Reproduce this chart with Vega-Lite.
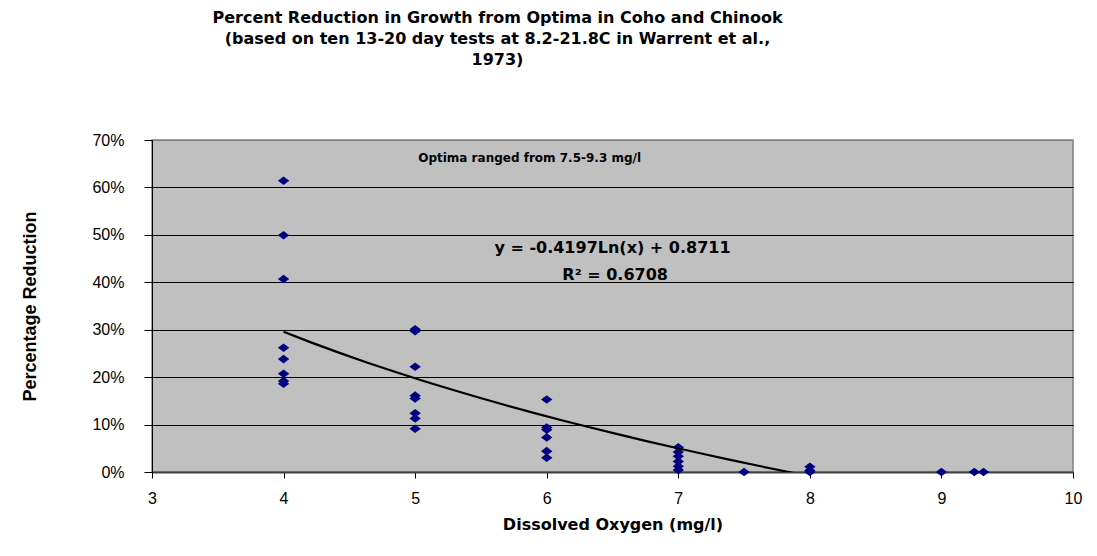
{
  "$schema": "https://vega.github.io/schema/vega-lite/v6.json",
  "width": 921,
  "height": 332,
  "autosize": {"type": "none"},
  "padding": {"left": 152, "top": 140, "right": 24, "bottom": 84},
  "background": "white",
  "title": {
    "text": ["Percent Reduction in Growth from Optima in Coho and Chinook", "(based on ten 13-20 day tests at 8.2-21.8C in Warrent et al.,", "1973)"],
    "anchor": "middle",
    "frame": "group",
    "dx": -115,
    "offset": 64,
    "font": "DejaVu Sans",
    "fontSize": 16,
    "fontWeight": "bold",
    "lineHeight": 21,
    "color": "#000000"
  },
  "config": {
    "view": {"fill": "#C0C0C0", "stroke": "#808080", "strokeWidth": 1.5},
    "axis": {"labelFont": "Liberation Sans", "titleFont": "Liberation Sans", "labelColor": "#000000", "titleColor": "#000000", "tickColor": "#000000"}
  },
  "datasets": {
    "pts": [
      {"do": 4, "pct": 0.614}, {"do": 4, "pct": 0.499}, {"do": 4, "pct": 0.407}, {"do": 4, "pct": 0.262},
      {"do": 4, "pct": 0.238}, {"do": 4, "pct": 0.207}, {"do": 4, "pct": 0.192}, {"do": 4, "pct": 0.186},
      {"do": 5, "pct": 0.301}, {"do": 5, "pct": 0.297}, {"do": 5, "pct": 0.222}, {"do": 5, "pct": 0.161},
      {"do": 5, "pct": 0.155}, {"do": 5, "pct": 0.124}, {"do": 5, "pct": 0.113}, {"do": 5, "pct": 0.091},
      {"do": 6, "pct": 0.153}, {"do": 6, "pct": 0.094}, {"do": 6, "pct": 0.089}, {"do": 6, "pct": 0.073},
      {"do": 6, "pct": 0.044}, {"do": 6, "pct": 0.030},
      {"do": 7, "pct": 0.052}, {"do": 7, "pct": 0.042}, {"do": 7, "pct": 0.033}, {"do": 7, "pct": 0.022},
      {"do": 7, "pct": 0.012}, {"do": 7, "pct": 0.004},
      {"do": 7.5, "pct": 0},
      {"do": 8, "pct": 0.011}, {"do": 8, "pct": 0.003}, {"do": 8, "pct": 0},
      {"do": 9, "pct": 0},
      {"do": 9.25, "pct": 0}, {"do": 9.32, "pct": 0}
    ]
  },
  "layer": [
    {
      "data": {"name": "pts"},
      "mark": {"type": "point", "shape": "M-1,0L0,-0.75L1,0L0,0.75Z", "filled": true, "opacity": 1, "color": "#000080", "size": 130},
      "encoding": {
        "x": {
          "field": "do", "type": "quantitative",
          "scale": {"domain": [3, 10], "nice": false, "zero": false},
          "axis": {
            "title": "Dissolved Oxygen (mg/l)",
            "format": "d",
            "values": [3, 4, 5, 6, 7, 8, 9, 10],
            "grid": false,
            "tickSize": 6,
            "domainColor": "#404040",
            "domainWidth": 2,
            "labelFontSize": 16,
            "labelPadding": 12,
            "labelFlush": false,
            "titleFont": "DejaVu Sans",
            "titleFontSize": 16,
            "titleFontWeight": "bold",
            "titlePadding": 10
          }
        },
        "y": {
          "field": "pct", "type": "quantitative",
          "scale": {"domain": [0, 0.7], "nice": false},
          "axis": {
            "title": "Percentage Reduction",
            "format": ".0%",
            "values": [0, 0.1, 0.2, 0.3, 0.4, 0.5, 0.6, 0.7],
            "grid": true,
            "gridColor": {"condition": {"test": "datum.value >= 0.69", "value": "#808080"}, "value": "#000000"},
            "gridWidth": 1,
            "tickSize": 8,
            "domainColor": "#000000",
            "labelPadding": 20,
            "labelFontSize": 16,
            "titleFontSize": 18,
            "titleFontWeight": "bold",
            "titlePadding": 52
          }
        }
      }
    },
    {
      "data": {"name": "pts"},
      "transform": [{"regression": "pct", "on": "do", "method": "log", "extent": [4, 9.32]}],
      "mark": {"type": "line", "color": "#000000", "strokeWidth": 2.2, "clip": true},
      "encoding": {
        "x": {"field": "do", "type": "quantitative"},
        "y": {"field": "pct", "type": "quantitative"}
      }
    },
    {
      "data": {"values": [{}]},
      "mark": {"type": "text", "text": "Optima ranged from 7.5-9.3 mg/l", "font": "DejaVu Sans", "fontSize": 12, "fontWeight": "bold", "color": "#000000", "align": "center", "baseline": "middle"},
      "encoding": {"x": {"datum": 5.87}, "y": {"datum": 0.662}}
    },
    {
      "data": {"values": [{}]},
      "mark": {"type": "text", "text": "y = -0.4197Ln(x) + 0.8711", "font": "DejaVu Sans", "fontSize": 16, "fontWeight": "bold", "color": "#000000", "align": "center", "baseline": "middle"},
      "encoding": {"x": {"datum": 6.5}, "y": {"datum": 0.472}}
    },
    {
      "data": {"values": [{}]},
      "mark": {"type": "text", "text": "R² = 0.6708", "font": "DejaVu Sans", "fontSize": 16, "fontWeight": "bold", "color": "#000000", "align": "center", "baseline": "middle"},
      "encoding": {"x": {"datum": 6.52}, "y": {"datum": 0.415}}
    }
  ]
}
